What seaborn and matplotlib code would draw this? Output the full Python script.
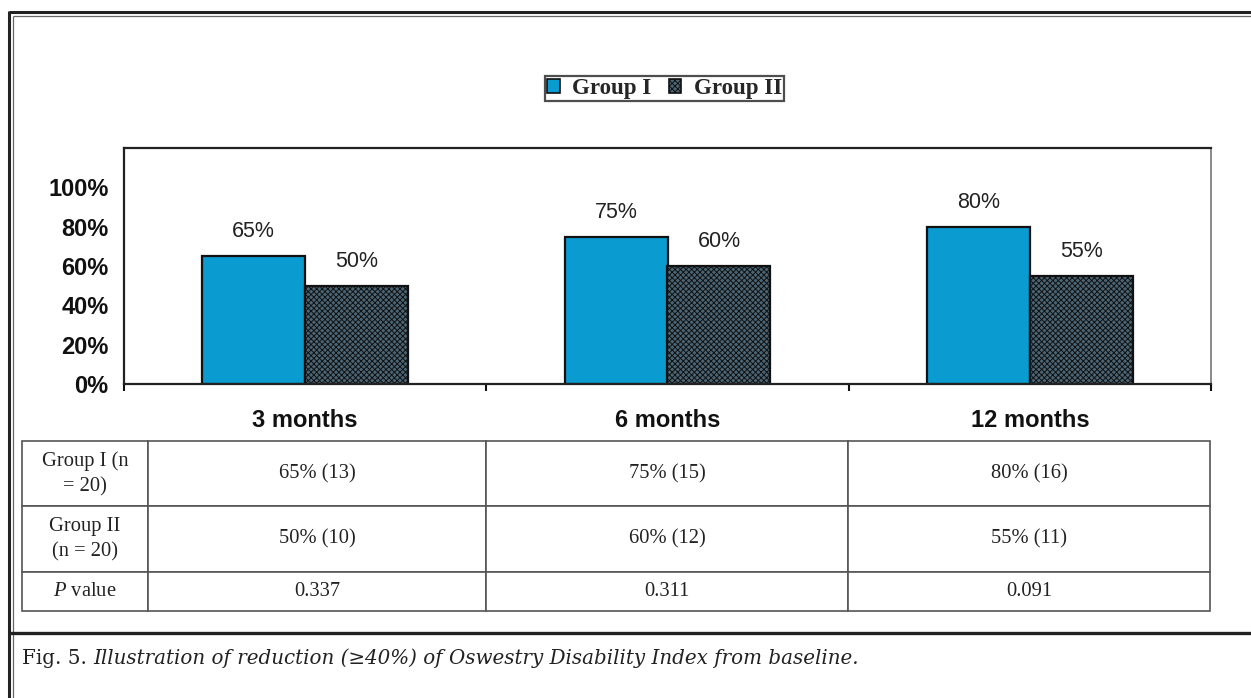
import matplotlib
matplotlib.use("Agg")
import matplotlib.pyplot as plt
from matplotlib.lines import Line2D
from matplotlib.ticker import FuncFormatter, FixedLocator
import seaborn as sns
import pandas as pd

# ---- data ----
periods = ["3 months", "6 months", "12 months"]
groups = ["Group I", "Group II"]
group1_pct = [65, 75, 80]
group2_pct = [50, 60, 55]
group1_n = [13, 15, 16]
group2_n = [10, 12, 11]
p_values = ["0.337", "0.311", "0.091"]
row_labels = ["Group I (n\n= 20)", "Group II\n(n = 20)", r"$\mathit{P}$ value"]
caption_lead = "Fig. 5. "
caption_body = "Illustration of reduction (\u226540%) of Oswestry Disability Index from baseline."

colors = {"Group I": "#0a9bd0", "Group II": "#4a6676"}

sns.set_theme(style="white")
plt.rcParams["font.family"] = ["Liberation Sans", "DejaVu Sans"]
plt.rcParams["mathtext.fontset"] = "custom"
plt.rcParams["mathtext.rm"] = "Liberation Serif"
plt.rcParams["mathtext.it"] = "Liberation Serif:italic"
plt.rcParams["hatch.linewidth"] = 0.7

W, H = 1251, 698
fig = plt.figure(figsize=(W / 100, H / 100), dpi=100)
fig.patch.set_facecolor("white")


def fx(px):
    return px / W


def fy(py):
    return 1 - py / H


df = pd.DataFrame({
    "period": periods * 2,
    "group": [groups[0]] * 3 + [groups[1]] * 3,
    "value": group1_pct + group2_pct,
})

ax = fig.add_axes([fx(124), fy(384), fx(1211) - fx(124), fy(148) - fy(384)])
sns.barplot(data=df, x="period", y="value", hue="group", order=periods,
            hue_order=groups, palette=colors, width=0.568, gap=0,
            edgecolor="#111111", linewidth=1.6, saturation=1, ax=ax)

for patch in ax.containers[1].patches:
    patch.set_hatch("xxxxxx")

for cont, vals in zip(ax.containers, [group1_pct, group2_pct]):
    ax.bar_label(cont, labels=[f"{v}%" for v in vals], padding=10,
                 fontsize=15.5, color="#222222")

ax.set_ylim(0, 120)
ax.set_xlim(-0.5, 2.5)
ax.yaxis.set_major_locator(FixedLocator([0, 20, 40, 60, 80, 100]))
ax.yaxis.set_major_formatter(FuncFormatter(lambda v, _: f"{v:.0f}%"))
ax.set_xlabel("")
ax.set_ylabel("")
ax.tick_params(axis="y", which="major", direction="out", length=7, width=1.5,
               color="#111111", labelsize=17, pad=4)
for lab in ax.get_yticklabels():
    lab.set_fontweight("bold")
    lab.set_color("#111111")
ax.xaxis.set_minor_locator(FixedLocator([-0.5, 0.5, 1.5, 2.5]))
ax.tick_params(axis="x", which="minor", direction="out", length=5, width=1.5,
               color="#111111", bottom=True)
ax.tick_params(axis="x", which="major", length=0, labelsize=17, pad=18)
for lab in ax.get_xticklabels():
    lab.set_fontweight("bold")
    lab.set_color("#111111")

for side, sp in ax.spines.items():
    sp.set_visible(True)
    sp.set_linewidth(1.6)
    sp.set_color("#222222")
ax.spines["right"].set_color("#777777")
ax.spines["right"].set_linewidth(1.2)

handles, labels = ax.get_legend_handles_labels()
if ax.get_legend() is not None:
    ax.get_legend().remove()
for h in handles:
    h.set_edgecolor("#111111")
    h.set_linewidth(1.2)
handles[1].set_hatch("xxxxxx")
leg = fig.legend(handles, labels, loc="center", bbox_to_anchor=(fx(664.5), fy(88.5)),
                 ncol=2, frameon=True, fancybox=False, edgecolor="#222222",
                 handlelength=0.55, handleheight=0.55, handletextpad=0.55,
                 columnspacing=0.75, borderpad=0.08, borderaxespad=0,
                 prop={"family": "Liberation Serif", "weight": "bold", "size": 16.5})
leg.get_frame().set_linewidth(1.6)

# ---- data table below the chart ----
tab_ax = fig.add_axes([fx(22), fy(611), fx(1210) - fx(22), fy(441) - fy(611)])
tab_ax.axis("off")
cells = []
cells.append([row_labels[0]] + [f"{p}% ({n})" for p, n in zip(group1_pct, group1_n)])
cells.append([row_labels[1]] + [f"{p}% ({n})" for p, n in zip(group2_pct, group2_n)])
cells.append([row_labels[2]] + p_values)
col_px = [126, 338, 362, 362]
row_px = [65, 66, 39]
table = tab_ax.table(cellText=cells, colWidths=[c / sum(col_px) for c in col_px],
                     cellLoc="center", bbox=[0, 0, 1, 1])
table.auto_set_font_size(False)
for (r, c), cell in table.get_celld().items():
    cell.set_height(row_px[r] / sum(row_px))
    cell.set_edgecolor("#555555")
    cell.set_linewidth(1.2)
    txt = cell.get_text()
    txt.set_fontfamily("Liberation Serif")
    txt.set_fontsize(14.8)
    txt.set_color("#222222")
    txt.set_linespacing(1.45)

# ---- caption ----
t1 = fig.text(fx(22), fy(658), caption_lead, family="DejaVu Serif",
              fontsize=14.3, va="center", ha="left", color="#222222")
ann = plt.annotate(caption_body, xy=(1, 0.5), xycoords=t1, va="center", ha="left",
                   family="DejaVu Serif", style="italic", fontsize=14.3,
                   color="#222222", annotation_clip=False)

# ---- page frame ----
def fline(x0, y0, x1, y1, lw, color):
    fig.add_artist(Line2D([fx(x0), fx(x1)], [fy(y0), fy(y1)], lw=lw, color=color,
                          transform=fig.transFigure, solid_capstyle="butt"))

fline(9, 12, W, 12, 2.2, "#222222")
fline(13, 16, W, 16, 0.9, "#666666")
fline(9, 11, 9, H, 2.2, "#222222")
fline(13, 16, 13, H, 0.9, "#666666")
fline(9, 633, W, 633, 2.4, "#222222")

fig.savefig("out.png", dpi=100, facecolor="white")
